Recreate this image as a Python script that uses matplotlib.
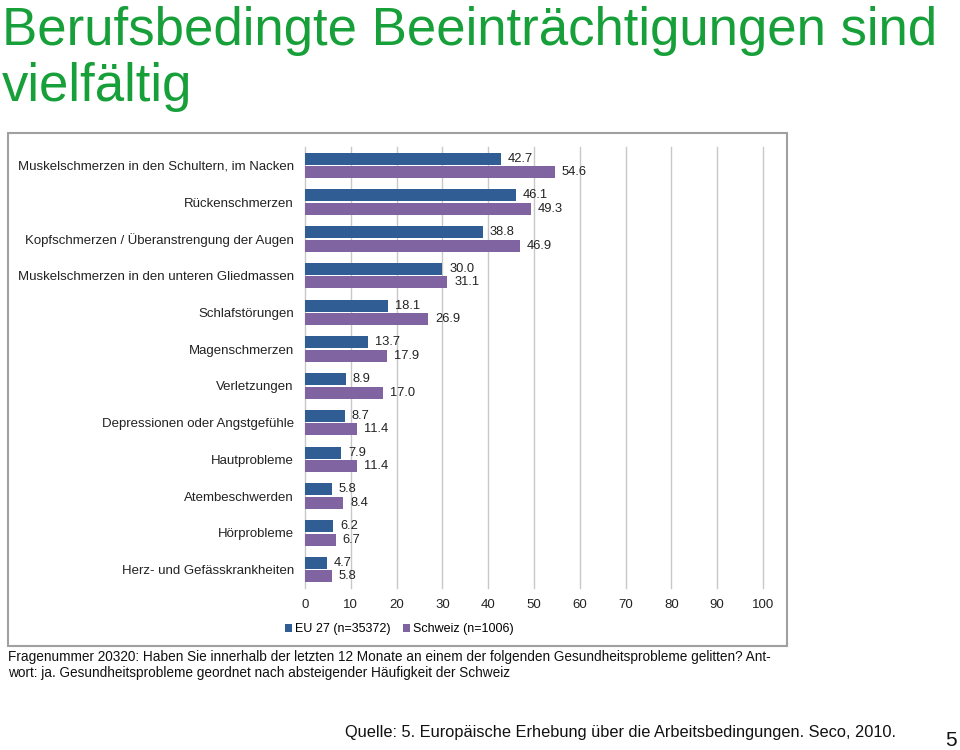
import matplotlib
matplotlib.use("Agg")
import matplotlib.pyplot as plt
import numpy as np
from matplotlib.patches import Rectangle

plt.rcParams['font.family'] = ['Liberation Sans', 'DejaVu Sans']

categories = [
    "Muskelschmerzen in den Schultern, im Nacken",
    "Rückenschmerzen",
    "Kopfschmerzen / Überanstrengung der Augen",
    "Muskelschmerzen in den unteren Gliedmassen",
    "Schlafstörungen",
    "Magenschmerzen",
    "Verletzungen",
    "Depressionen oder Angstgefühle",
    "Hautprobleme",
    "Atembeschwerden",
    "Hörprobleme",
    "Herz- und Gefässkrankheiten",
]
eu_values = [42.7, 46.1, 38.8, 30.0, 18.1, 13.7, 8.9, 8.7, 7.9, 5.8, 6.2, 4.7]
ch_values = [54.6, 49.3, 46.9, 31.1, 26.9, 17.9, 17.0, 11.4, 11.4, 8.4, 6.7, 5.8]
series_names = ["EU 27 (n=35372)", "Schweiz (n=1006)"]
x_ticks = list(range(0, 101, 10))

title = "Berufsbedingte Beeinträchtigungen sind\nvielfältig"
footnote = ("Fragenummer 20320: Haben Sie innerhalb der letzten 12 Monate an einem der folgenden "
            "Gesundheitsprobleme gelitten? Ant-\nwort: ja. Gesundheitsprobleme geordnet nach "
            "absteigender Häufigkeit der Schweiz")
source = "Quelle: 5. Europäische Erhebung über die Arbeitsbedingungen. Seco, 2010."

blue = "#2f5d94"
purple = "#8064a2"
green = "#17a03a"

W, H = 960, 750
fig = plt.figure(figsize=(W / 100, H / 100), dpi=100)

# slide title
fig.text(2 / W, 1 - 6 / H, title, color=green, fontsize=38, va="top", ha="left",
         linespacing=1.15)

# frame of the embedded chart
fig.patches.append(Rectangle((8 / W, 1 - 646 / H), (787 - 8) / W, (646 - 133) / H,
                             transform=fig.transFigure, fill=False,
                             edgecolor="#a0a0a0", linewidth=1.5))

ax = fig.add_axes([305 / W, 1 - 588 / H, (763 - 305) / W, (588 - 147) / H])
y = np.arange(len(categories))
bh = 0.33
ax.barh(y - bh / 2 - 0.02, eu_values, height=bh, color=blue, label=series_names[0])
ax.barh(y + bh / 2 + 0.02, ch_values, height=bh, color=purple, label=series_names[1])

for yi, v in zip(y, eu_values):
    ax.annotate(f"{v:.1f}", (v, yi - bh / 2 - 0.02), xytext=(5, 0), textcoords="offset points",
                va="center", ha="left", fontsize=9.3, color="#222222")
for yi, v in zip(y, ch_values):
    ax.annotate(f"{v:.1f}", (v, yi + bh / 2 + 0.02), xytext=(5, 0), textcoords="offset points",
                va="center", ha="left", fontsize=9.3, color="#222222")

ax.set_xlim(0, 100)
ax.set_ylim(len(categories) - 0.5, -0.5)
ax.set_xticks(x_ticks)
ax.set_yticks(y)
ax.set_yticklabels(categories, fontsize=9.5, color="#222222")
ax.tick_params(axis="x", length=0, pad=8, labelsize=9.5, labelcolor="#222222")
ax.tick_params(axis="y", length=0, pad=8)
ax.grid(axis="x", color="#c8c8c8", linewidth=1)
for gl in ax.get_xgridlines():
    gl.set_clip_on(False)
ax.set_axisbelow(True)
for s in ax.spines.values():
    s.set_visible(False)

fig.legend(loc="center", bbox_to_anchor=(399 / W, 1 - 629 / H), ncol=2, frameon=False,
           fontsize=9.0, handlelength=0.6, handleheight=0.6, handletextpad=0.2,
           columnspacing=1.0)

fig.text(8 / W, 1 - 650 / H, footnote, fontsize=9.8, va="top", ha="left",
         color="#111111", linespacing=1.2)

fig.text(345 / W, 1 - 732 / H, source, fontsize=11.8, va="center", ha="left", color="#111111")
fig.text(945 / W, 1 - 740 / H, "5", fontsize=15, va="center", ha="left", color="#111111")

fig.savefig("out.png", dpi=100)
